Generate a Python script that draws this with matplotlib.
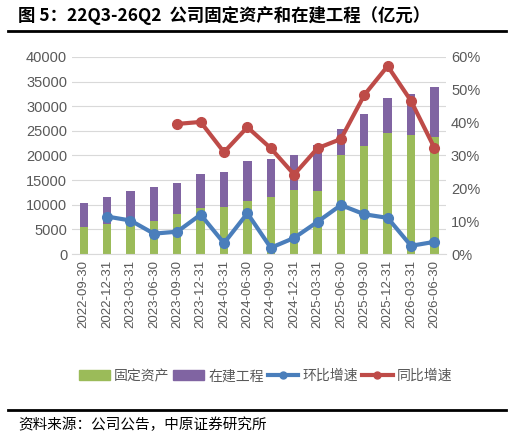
import matplotlib.pyplot as plt
import matplotlib.lines as mlines
import numpy as np

plt.rcParams['font.family'] = ['Noto Sans CJK SC', 'DejaVu Sans']

dates = ['2022-09-30', '2022-12-31', '2023-03-31', '2023-06-30', '2023-09-30', '2023-12-31',
         '2024-03-31', '2024-06-30', '2024-09-30', '2024-12-31', '2025-03-31', '2025-06-30',
         '2025-09-30', '2025-12-31', '2026-03-31', '2026-06-30']
fixed_assets = [5560, 6000, 6200, 6700, 8200, 9300, 9600, 10800, 11600, 12900, 12800, 20100,
                22000, 24500, 24200, 23700]
total_assets = [10300, 11600, 12700, 13600, 14500, 16300, 16700, 18800, 19200, 20100, 22100, 25400,
                28500, 31700, 32500, 33800]
construction = [t - f for t, f in zip(total_assets, fixed_assets)]
qoq = [np.nan, 11.4, 10.2, 6.2, 6.8, 12.0, 3.3, 12.4, 1.9, 4.9, 9.8, 14.9, 12.1, 11.0, 2.5, 3.7]
yoy = [np.nan, np.nan, np.nan, np.nan, 39.6, 40.2, 31.0, 38.6, 32.2, 24.2, 32.2, 35.0, 48.4, 57.2, 46.6, 32.3]

green = '#9bbb59'
purple = '#8064a2'
blue = '#4a7ebb'
red = '#be4b48'
grey = '#595959'

fig = plt.figure(figsize=(5.11, 4.41), dpi=100)
ax = fig.add_axes([0.141, 0.424, 0.732, 0.447])
x = np.arange(len(dates))
ax.bar(x, fixed_assets, width=0.36, color=green, zorder=2)
ax.bar(x, construction, width=0.36, bottom=fixed_assets, color=purple, zorder=2)
ax.set_ylim(0, 40000)
ax.set_yticks(range(0, 40001, 5000))
ax.set_xlim(-0.5, len(dates) - 0.5)
ax.set_xticks(x)
ax.set_xticklabels(dates, rotation=90, fontsize=9.5, color=grey, family=['Liberation Sans'])
ax.grid(axis='y', color='#d9d9d9', lw=0.8, zorder=0)
for s in ['top', 'right', 'left']:
    ax.spines[s].set_visible(False)
ax.spines['bottom'].set_color('#d9d9d9')
ax.tick_params(axis='y', length=0, labelsize=10.5, labelcolor=grey)
ax.tick_params(axis='x', length=0, pad=4)
for lbl in ax.get_yticklabels():
    lbl.set_family(['Liberation Sans'])

ax2 = ax.twinx()
ax2.plot(x, qoq, color=blue, lw=3, marker='o', ms=7, zorder=3)
ax2.plot(x, yoy, color=red, lw=3, marker='o', ms=7, zorder=3)
ax2.set_ylim(0, 60)
ax2.set_yticks(range(0, 61, 10))
ax2.set_yticklabels([f'{v}%' for v in range(0, 61, 10)], family=['Liberation Sans'])
ax2.tick_params(axis='y', length=0, labelsize=10.5, labelcolor=grey)
for s in ax2.spines.values():
    s.set_visible(False)

handles = [
    plt.Rectangle((0, 0), 1, 1, color=green),
    plt.Rectangle((0, 0), 1, 1, color=purple),
    mlines.Line2D([], [], color=blue, lw=3, marker='o', ms=5),
    mlines.Line2D([], [], color=red, lw=3, marker='o', ms=5),
]
fig.legend(handles, ['固定资产', '在建工程', '环比增速', '同比增速'], loc='center',
           bbox_to_anchor=(0.52, 0.147), ncol=4, frameon=False, fontsize=10,
           handlelength=2.2, handletextpad=0.3, columnspacing=0.3, labelcolor=grey)

fig.text(0.035, 0.965, '图 5：22Q3-26Q2  公司固定资产和在建工程（亿元）', fontsize=12.5,
         fontweight='bold', va='center', ha='left')
fig.add_artist(mlines.Line2D([0.015, 0.99], [0.93, 0.93], color='black', lw=2))
fig.add_artist(mlines.Line2D([0.015, 0.99], [0.07, 0.07], color='black', lw=2))
fig.text(0.035, 0.036, '资料来源：公司公告，中原证券研究所', fontsize=10.5, va='center', ha='left')

fig.savefig('out.png', dpi=100)
